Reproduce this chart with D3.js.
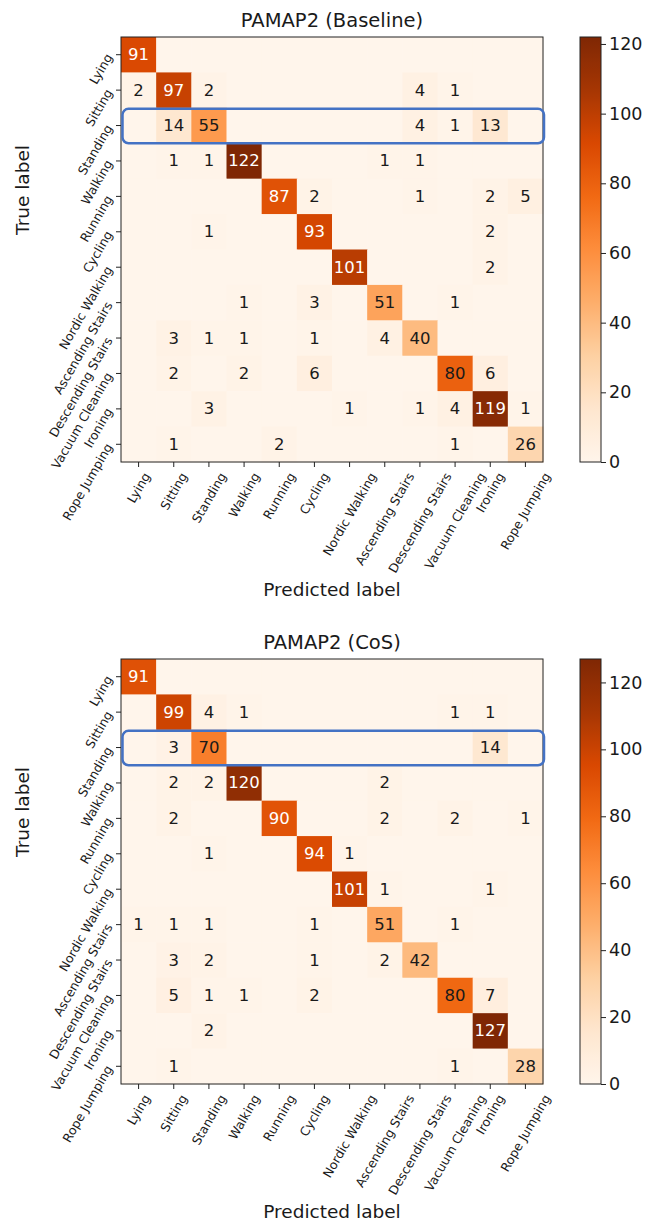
<!DOCTYPE html>
<html><head><meta charset="utf-8">
<script src="https://cdn.jsdelivr.net/npm/d3@7"></script>
<style>body{margin:0;background:#fff}svg{display:block;font-family:"DejaVu Sans",sans-serif}</style>
</head><body><svg id="c" width="653" height="1224"></svg>
<script>
const labels = ["Lying","Sitting","Standing","Walking","Running","Cycling","Nordic Walking","Ascending Stairs","Descending Stairs","Vacuum Cleaning","Ironing","Rope Jumping"];
const baselineValues = [
  [91,0,0,0,0,0,0,0,0,0,0,0],
  [2,97,2,0,0,0,0,0,4,1,0,0],
  [0,14,55,0,0,0,0,0,4,1,13,0],
  [0,1,1,122,0,0,0,1,1,0,0,0],
  [0,0,0,0,87,2,0,0,1,0,2,5],
  [0,0,1,0,0,93,0,0,0,0,2,0],
  [0,0,0,0,0,0,101,0,0,0,2,0],
  [0,0,0,1,0,3,0,51,0,1,0,0],
  [0,3,1,1,0,1,0,4,40,0,0,0],
  [0,2,0,2,0,6,0,0,0,80,6,0],
  [0,0,3,0,0,0,1,0,1,4,119,1],
  [0,1,0,0,2,0,0,0,0,1,0,26]
];
const cosValues = [
  [91,0,0,0,0,0,0,0,0,0,0,0],
  [0,99,4,1,0,0,0,0,0,1,1,0],
  [0,3,70,0,0,0,0,0,0,0,14,0],
  [0,2,2,120,0,0,0,2,0,0,0,0],
  [0,2,0,0,90,0,0,2,0,2,0,1],
  [0,0,1,0,0,94,1,0,0,0,0,0],
  [0,0,0,0,0,0,101,1,0,0,1,0],
  [1,1,1,0,0,1,0,51,0,1,0,0],
  [0,3,2,0,0,1,0,2,42,0,0,0],
  [0,5,1,1,0,2,0,0,0,80,7,0],
  [0,0,2,0,0,0,0,0,0,0,127,0],
  [0,1,0,0,0,0,0,0,0,1,0,28]
];
const colorbarTicks = [0,20,40,60,80,100,120];
const titles = ["PAMAP2 (Baseline)","PAMAP2 (CoS)"];
const highlightedRow = "Standing";
const orangesColors = ["#fff5eb","#fee6ce","#fdd0a2","#fdae6b","#fd8d3c","#f16913","#d94801","#a63603","#7f2704"];

const svg = d3.select("#c");
const defs = svg.append("defs");

function drawPanel(idx, top, title, values) {
  const left = 121, w = 422, h = 425;
  const max = d3.max(values.flat());
  const x = d3.scaleBand().domain(labels).range([left, left + w]);
  const y = d3.scaleBand().domain(labels).range([top, top + h]);
  const color = d3.scaleLinear()
    .domain(orangesColors.map((c, i) => i / 8 * max))
    .range(orangesColors).interpolate(d3.interpolateRgb);
  const g = svg.append("g");

  const cells = [];
  values.forEach((row, i) => row.forEach((v, j) => cells.push({r: labels[i], c: labels[j], v})));
  g.selectAll("rect.cell").data(cells).join("rect").attr("class", "cell")
    .attr("x", d => x(d.c)).attr("y", d => y(d.r))
    .attr("width", x.bandwidth() + 0.5).attr("height", y.bandwidth() + 0.5)
    .attr("fill", d => color(d.v));
  g.selectAll("text.val").data(cells.filter(d => d.v > 0)).join("text").attr("class", "val")
    .attr("x", d => x(d.c) + x.bandwidth() / 2).attr("y", d => y(d.r) + y.bandwidth() / 2)
    .attr("text-anchor", "middle").attr("dominant-baseline", "central")
    .attr("font-size", 16.5)
    .attr("fill", d => d.v > 0.7 * max ? "#ffffff" : "#1a1a1a")
    .text(d => d.v);

  g.append("rect").attr("x", left).attr("y", top).attr("width", w).attr("height", h)
    .attr("fill", "none").attr("stroke", "#222").attr("stroke-width", 1);

  const fs = 12.5, s60 = Math.sin(Math.PI / 3), c60 = 0.5;
  // y axis
  const ya = g.append("g").attr("transform", `translate(${left},0)`)
    .call(d3.axisLeft(y).tickSize(5).tickFormat(""));
  ya.select(".domain").remove();
  ya.selectAll(".tick line").attr("stroke", "#222").attr("stroke-width", 1);
  g.selectAll("text.ylab").data(labels).join("text").attr("class", "ylab")
    .attr("transform", d => `translate(${left - 12},${y(d) + y.bandwidth() / 2}) rotate(-60)`)
    .attr("text-anchor", "end").attr("dominant-baseline", "central")
    .attr("font-size", fs).attr("fill", "#1a1a1a").text(d => d);

  // x axis
  const xa = g.append("g").attr("transform", `translate(0,${top + h})`)
    .call(d3.axisBottom(x).tickSize(5).tickFormat(""));
  xa.select(".domain").remove();
  xa.selectAll(".tick line").attr("stroke", "#222").attr("stroke-width", 1);
  g.selectAll("text.xlab").data(labels).join("text").attr("class", "xlab")
    .attr("text-anchor", "middle").attr("dominant-baseline", "central")
    .attr("font-size", fs).attr("fill", "#1a1a1a").text(d => d)
    .each(function(d) {
      const L = this.getComputedTextLength();
      const H = L * s60 + fs * 1.16 * c60;
      d3.select(this).attr("transform",
        `translate(${x(d) + x.bandwidth() / 2},${top + h + 8 + H / 2}) rotate(-60)`);
    });

  // titles
  g.append("text").attr("x", left + w / 2).attr("y", top - 10)
    .attr("text-anchor", "middle").attr("font-size", 19.5).attr("fill", "#1a1a1a").text(title);
  g.append("text").attr("x", left + w / 2).attr("y", top + h + 134)
    .attr("text-anchor", "middle").attr("font-size", 18.5).attr("fill", "#1a1a1a").text("Predicted label");
  g.append("text").attr("transform", `translate(29,${top + 153}) rotate(-90)`)
    .attr("text-anchor", "middle").attr("font-size", 18.5).attr("fill", "#1a1a1a").text("True label");

  // highlight box
  g.append("rect").attr("x", left + 1.5).attr("y", y(highlightedRow) + 1)
    .attr("width", w - 0.5).attr("height", y.bandwidth() - 1).attr("rx", 6)
    .attr("fill", "none").attr("stroke", "#4472c4").attr("stroke-width", 2.5);

  // colorbar
  const cbx = 580, cbw = 21;
  const gid = "grad" + idx;
  const grad = defs.append("linearGradient").attr("id", gid)
    .attr("x1", 0).attr("y1", 1).attr("x2", 0).attr("y2", 0);
  d3.range(0, 1.0001, 1 / 64).forEach(t => grad.append("stop")
    .attr("offset", t).attr("stop-color", color(t * max)));
  g.append("rect").attr("x", cbx).attr("y", top).attr("width", cbw).attr("height", h)
    .attr("fill", `url(#${gid})`).attr("stroke", "#222").attr("stroke-width", 1);
  const cs = d3.scaleLinear().domain([0, max]).range([top + h, top]);
  const ca = g.append("g").attr("transform", `translate(${cbx + cbw},0)`)
    .call(d3.axisRight(cs).tickValues(colorbarTicks).tickSize(5).tickPadding(3));
  ca.select(".domain").remove();
  ca.selectAll(".tick line").attr("stroke", "#222");
  ca.selectAll(".tick text").attr("font-size", 17.5).attr("fill", "#1a1a1a")
    .attr("font-family", "DejaVu Sans");
}

drawPanel(0, 37, titles[0], baselineValues);
drawPanel(1, 659, titles[1], cosValues);
</script></body></html>
